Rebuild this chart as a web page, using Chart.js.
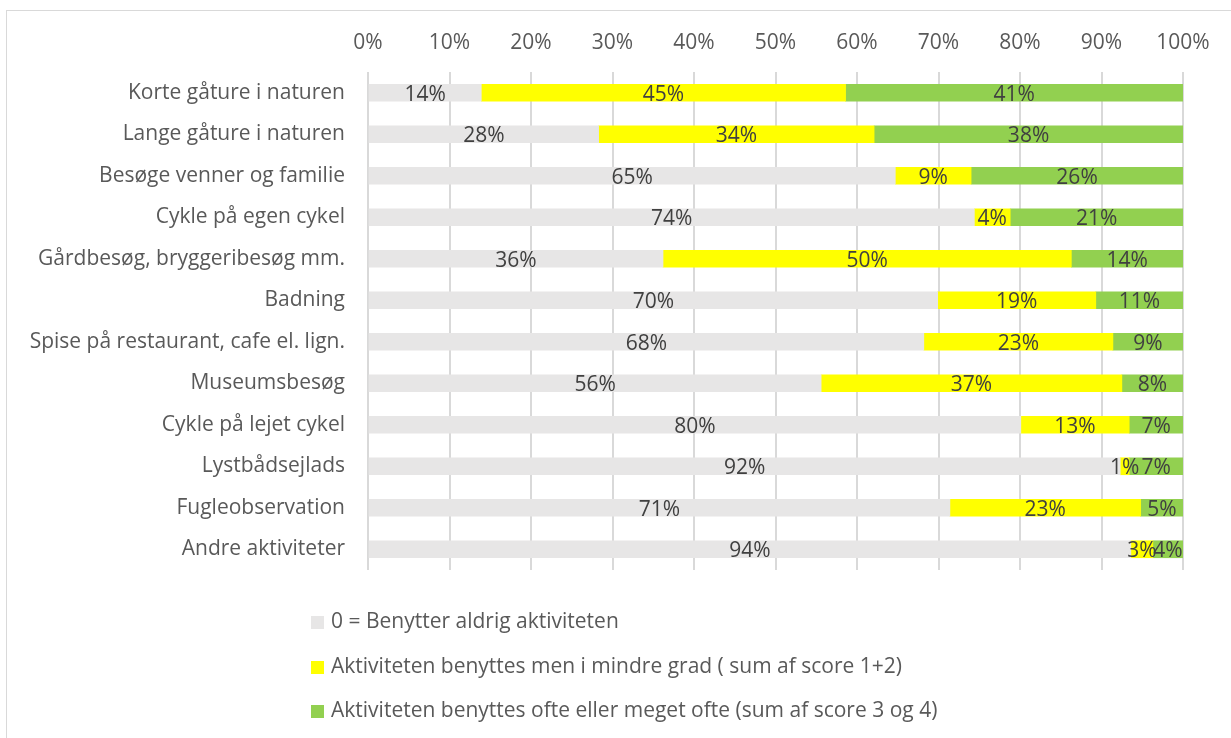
<!DOCTYPE html>
<html>
<head>
<meta charset="utf-8">
<script src="https://cdn.jsdelivr.net/npm/chart.js@4.4.1/dist/chart.umd.min.js"></script>
<style>
  body { margin: 0; background: #fff; font-family: "Open Sans", sans-serif; }
  #frame { position: absolute; left: 6px; top: 10px; width: 1240px; height: 740px; border: 1px solid #d9d9d9; }
  #wrap { position: absolute; left: 0; top: 0; width: 1231px; height: 738px; }
  #legend { position: absolute; left: 311px; top: 606px; color: #595959; font-size: 21px; }
  #legend div { height: 44.5px; display: flex; align-items: flex-start; }
  #legend span.box { display: inline-block; width: 13px; height: 13px; margin-right: 7px; margin-top: 10px; }
</style>
</head>
<body>
<div id="frame"></div>
<div id="wrap"><canvas id="chart"></canvas></div>
<div id="legend"></div>
<script>
const categories = [
  'Korte gåture i naturen',
  'Lange gåture i naturen',
  'Besøge venner og familie',
  'Cykle på egen cykel',
  'Gårdbesøg, bryggeribesøg mm.',
  'Badning',
  'Spise på restaurant, cafe el. lign.',
  'Museumsbesøg',
  'Cykle på lejet cykel',
  'Lystbådsejlads',
  'Fugleobservation',
  'Andre aktiviteter'
];
const seriesNames = [
  '0 = Benytter aldrig aktiviteten',
  'Aktiviteten benyttes men i mindre grad ( sum af score 1+2)',
  'Aktiviteten benyttes ofte eller meget ofte (sum af score 3 og 4)'
];
const never = [13.9, 28.3, 64.7, 74.4, 36.2, 69.9, 68.2, 55.6, 80.1, 92.3, 71.4, 93.6];
const sometimes = [44.7, 33.8, 9.3, 4.4, 50.1, 19.4, 23.2, 36.9, 13.3, 1.1, 23.4, 2.7];
const often = [41.4, 37.9, 26.0, 21.2, 13.7, 10.7, 8.6, 7.5, 6.6, 6.6, 5.2, 3.7];
const tickLabels = ['0%', '10%', '20%', '30%', '40%', '50%', '60%', '70%', '80%', '90%', '100%'];
const colors = ['#e7e6e6', '#ffff00', '#92d050'];

const fontFamily = '"Open Sans", sans-serif';

// labels drawn inside each bar segment
const barLabels = {
  id: 'barLabels',
  afterDatasetsDraw(chart) {
    const ctx = chart.ctx;
    ctx.save();
    ctx.font = '21px ' + fontFamily;
    ctx.fillStyle = '#404040';
    ctx.textAlign = 'center';
    ctx.textBaseline = 'middle';
    chart.data.datasets.forEach((ds, i) => {
      const meta = chart.getDatasetMeta(i);
      meta.data.forEach((bar, j) => {
        const x = (bar.x + bar.base) / 2;
        ctx.fillText(Math.round(ds.data[j]) + '%', x, bar.y + 2);
      });
    });
    ctx.restore();
  }
};

const data = [never, sometimes, often];
const chart = new Chart(document.getElementById('chart'), {
  type: 'bar',
  data: {
    labels: categories,
    datasets: data.map((d, i) => ({
      label: seriesNames[i],
      data: d,
      backgroundColor: colors[i],
      barThickness: 17
    }))
  },
  options: {
    indexAxis: 'y',
    responsive: true,
    maintainAspectRatio: false,
    animation: false,
    layout: { padding: { top: 12, right: 48, bottom: 168, left: 0 } },
    plugins: { legend: { display: false }, tooltip: { enabled: false } },
    scales: {
      x: {
        position: 'top',
        stacked: true,
        min: 0,
        max: 100,
        ticks: {
          stepSize: 10,
          padding: 16,
          color: '#595959',
          font: { family: fontFamily, size: 21 },
          callback: (v, i) => tickLabels[i]
        },
        grid: { color: '#d9d9d9', lineWidth: 2, drawTicks: false },
        border: { display: false },
        afterFit: s => { s.height = 60; }
      },
      y: {
        stacked: true,
        ticks: {
          padding: 15,
          color: '#595959',
          font: { family: fontFamily, size: 21 }
        },
        grid: { display: false },
        border: { display: false },
        afterFit: s => { s.width = 368; }
      }
    }
  },
  plugins: [barLabels]
});

const legend = document.getElementById('legend');
seriesNames.forEach((name, i) => {
  const row = document.createElement('div');
  row.innerHTML = '<span class="box" style="background:' + colors[i] + '"></span><span>' + name + '</span>';
  legend.appendChild(row);
});
</script>
</body>
</html>
